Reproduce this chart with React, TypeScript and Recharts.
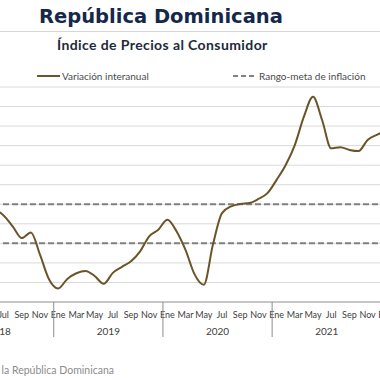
import React from "react";
import { LineChart, Line, XAxis, YAxis, CartesianGrid, ReferenceLine } from "recharts";

const monthNames = ["Ene", "Feb", "Mar", "Abr", "May", "Jun", "Jul", "Ago", "Sep", "Oct", "Nov", "Dic"];
const years = [2018, 2019, 2020, 2021, 2022];
const values2018 = [4.2, 4.0, 3.8, 4.4, 4.6, 4.7, 4.43, 3.87, 3.27, 3.56, 2.42, 1.15];
const values2019 = [0.69, 1.18, 1.47, 1.59, 1.33, 0.93, 1.49, 1.8, 2.08, 2.59, 3.36, 3.7];
const values2020 = [4.21, 3.62, 2.65, 1.4, 0.88, 2.93, 4.55, 4.89, 5.02, 5.06, 5.27, 5.57];
const values2021 = [6.25, 7.01, 8.03, 9.48, 10.5, 9.31, 7.86, 7.92, 7.78, 7.72, 8.29, 8.55];
const values2022 = [8.75, 9.0, 9.2];
const targetRange = [3, 5];
const yTicks = [0, 1, 2, 3, 4, 5, 6, 7, 8, 9, 10, 11];

const seriesByYear = [values2018, values2019, values2020, values2021, values2022];
const data = seriesByYear.flatMap((vals, yi) =>
  vals.map((v, mi) => ({ key: `${years[yi]}-${mi + 1}`, month: mi, year: years[yi], value: v }))
);

const N = data.length;
const PLOT_W = 455;
const BW = PLOT_W / N;
const LINE_COLOR = "#6b5428";
const FONT = "Lato, 'Open Sans', sans-serif";

const MonthTick = (props: any) => {
  const { x, y, payload } = props;
  const d = data[payload.index];
  if (!d) return null;
  const left = x - BW / 2;
  return (
    <g>
      {d.month % 2 === 0 && (
        <text x={x} y={y + 7.5} textAnchor="middle" fontSize={9} fill="#404040" fontFamily={FONT}>
          {monthNames[d.month]}
        </text>
      )}
      {d.month === 0 && <line x1={left} x2={left} y1={y - 8} y2={y + 27} stroke="#8c8c8c" strokeWidth={1} />}
      {d.month === 6 && (
        <text x={left} y={y + 25} textAnchor="middle" fontSize={10} fill="#404040" fontFamily={FONT}>
          {d.year}
        </text>
      )}
    </g>
  );
};

export default function App() {
  return (
    <div
      style={{
        position: "fixed",
        left: 0,
        top: 0,
        width: 380,
        height: 380,
        overflow: "hidden",
        background: "#fff",
        fontFamily: FONT,
      }}
    >
      <div
        style={{
          position: "absolute",
          left: 39,
          top: 4,
          fontSize: 19.5,
          fontWeight: 700,
          fontFamily: "'DejaVu Sans', sans-serif",
          color: "#15284a",
          whiteSpace: "nowrap",
          lineHeight: "26px",
        }}
      >
        República Dominicana
      </div>
      <div style={{ position: "absolute", left: 0, top: 31, width: 380, height: 1, background: "#d6d6d6" }} />
      <div
        style={{
          position: "absolute",
          left: 57,
          top: 36,
          fontSize: 14,
          fontWeight: 700,
          letterSpacing: 0.4,
          color: "#1c2a3c",
          whiteSpace: "nowrap",
          lineHeight: "18px",
        }}
      >
        Índice de Precios al Consumidor
      </div>
      <svg style={{ position: "absolute", left: 0, top: 66 }} width={380} height={20}>
        <line x1={37} x2={60} y1={10} y2={10} stroke={LINE_COLOR} strokeWidth={2} />
        <text x={62} y={13.5} fontSize={10} fill="#4a4a4a" fontFamily={FONT}>
          Variación interanual
        </text>
        <line x1={233} x2={257} y1={10} y2={10} stroke="#808080" strokeWidth={2} strokeDasharray="5 3" />
        <text x={259} y={13.5} fontSize={10} fill="#4a4a4a" fontFamily={FONT}>
          Rango-meta de inflación
        </text>
      </svg>
      <div style={{ position: "absolute", left: -51.4, top: 82 }}>
        <LineChart width={PLOT_W} height={270} data={data} margin={{ top: 5, right: 0, bottom: 0, left: 0 }}>
          <CartesianGrid vertical={false} stroke="#d9d9d9" strokeWidth={1} />
          <XAxis
            dataKey="key"
            interval={0}
            tickLine={false}
            axisLine={{ stroke: "#a0a0a0" }}
            height={50}
            tick={<MonthTick />}
          />
          <YAxis hide domain={[0, 11]} ticks={yTicks} interval={0} />
          {targetRange.map((v) => (
            <ReferenceLine key={v} y={v} stroke="#808080" strokeWidth={2} strokeDasharray="6 3" />
          ))}
          <Line
            type="monotone"
            dataKey="value"
            stroke={LINE_COLOR}
            strokeWidth={2}
            dot={false}
            isAnimationActive={false}
          />
        </LineChart>
      </div>
      <div
        style={{
          position: "absolute",
          right: 380 - 114,
          top: 363,
          fontSize: 10.5,
          color: "#8c8c8c",
          whiteSpace: "nowrap",
          lineHeight: "14px",
        }}
      >
        Fuente: Banco Central de la República Dominicana
      </div>
    </div>
  );
}
